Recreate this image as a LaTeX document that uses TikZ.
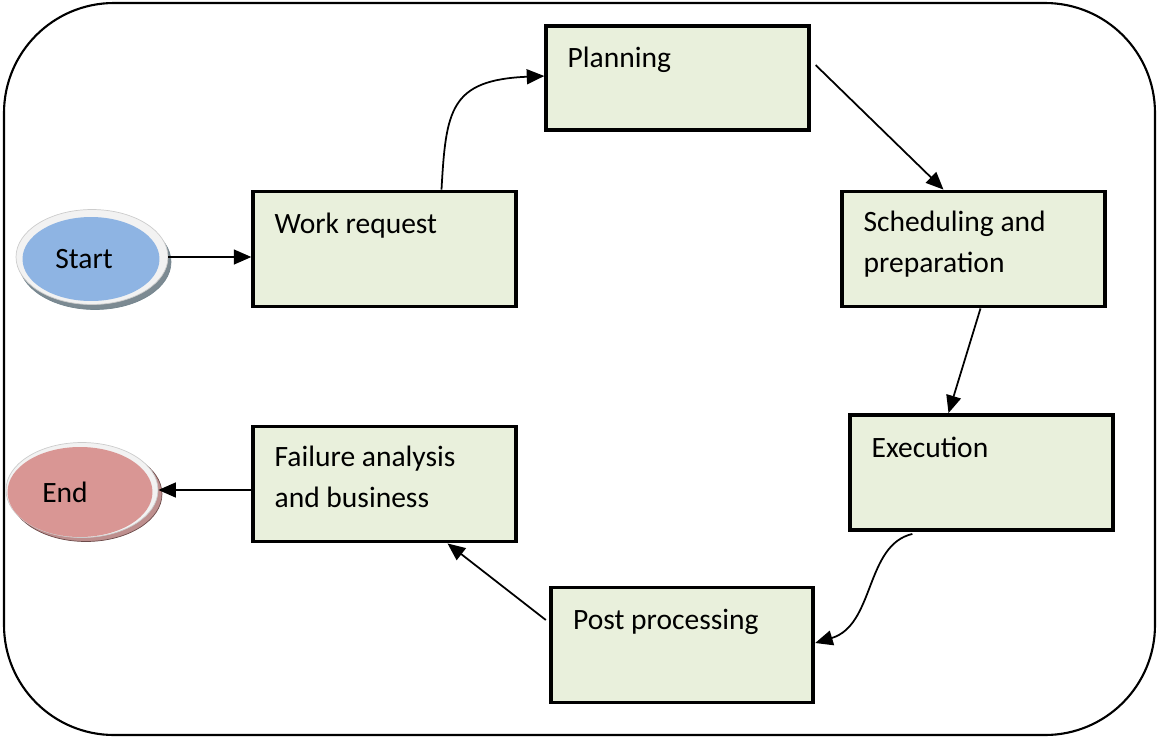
\documentclass[tikz,border=0pt]{standalone}
\usepackage{fontspec}
\setmainfont{Carlito}
\usepackage{tikz}
\usetikzlibrary{calc}
\usetikzlibrary{arrows.meta}
\usetikzlibrary{shapes.geometric}
\definecolor{boxgreen}{HTML}{E9F0DC}
\definecolor{startblue}{HTML}{8EB4E3}
\definecolor{endred}{HTML}{D99694}
\definecolor{rimgrey}{HTML}{F2F2F2}
\tikzset{stage/.style={rectangle,draw=black,fill=boxgreen,line width=2.2pt,minimum width=5.25cm,minimum height=2.3cm,inner sep=0pt}}
\tikzset{stagetxt/.style={anchor=base west,inner sep=0pt,align=left,font=\fontsize{16.8}{23.3}\selectfont}}
\tikzset{term/.style={ellipse,inner sep=0pt,minimum width=2.74cm,minimum height=1.68cm,draw=none,font=\fontsize{16.8}{19}\selectfont}}
\tikzset{termrim/.style={ellipse,inner sep=0pt,minimum width=3.04cm,minimum height=1.9cm,fill=rimgrey,draw=black!20,line width=0.4pt}}
\tikzset{flow/.style={line width=1pt,-{Triangle[length=10pt,width=8.5pt]}}}
\begin{document}
\begin{tikzpicture}[x=0.02cm,y=-0.02cm]
\useasboundingbox (0,0) rectangle (1157,738);
\draw[line width=1.2pt,rounded corners=2.2cm] (4,3) rectangle (1155,735);

% stages
\node[stage,minimum height=2.08cm] (plan) at (677.5,78) {};
\node[stage] (wreq) at (384.5,249) {};
\node[stage] (sched) at (973.5,249) {};
\node[stage] (exec) at (981.5,472.5) {};
\node[stage] (post) at (682,645) {};
\node[stage] (fail) at (384.5,484) {};

% labels (base = last line)
\node[stagetxt] (planT) at ($(plan.north west)+(23,43)$) {Planning};
\node[stagetxt] (wreqT) at ($(wreq.north west)+(23,44)$) {Work request};
\node[stagetxt] (schedT) at ($(sched.north west)+(23,83)$) {Scheduling and\\preparation};
\node[stagetxt] (execT) at ($(exec.north west)+(23,44)$) {Execution};
\node[stagetxt] (postT) at ($(post.north west)+(24,44)$) {Post processing};
\node[stagetxt] (failT) at ($(fail.north west)+(23,83)$) {Failure analysis\\and business};

% start and end discs
\node[termrim,fill=black!45!cyan!30!gray,draw=black!50!cyan!40!gray] (startS) at (95,262) {};
\node[termrim] (startR) at (92,257) {};
\node[term,fill=startblue] (start) at (91,259) {\hspace*{-0.28cm}Start};
\node[termrim,fill=endred!70!gray,draw=endred!50!black] (endS) at (86,494) {};
\node[termrim] (endR) at (82,490) {};
\node[term,fill=endred,minimum width=2.9cm,minimum height=1.8cm] (end) at (80,492) {\hspace*{-0.6cm}End};

% connectors
\coordinate (wq) at ($(wreq.north)+(57,0)$);
\coordinate (pl) at ($(plan.west)+(0,-2)$);
\coordinate (pe) at ($(plan.north east)+(5,41)$);
\coordinate (sd) at ($(sched.south)+(7,0)$);
\coordinate (ex) at ($(exec.south west)+(64,2)$);
\coordinate (ps) at ($(post.west)+(-3,-25)$);
\coordinate (fl) at ($(fail.south)+(63,0)$);
\draw[flow] (startR.east) -- (startR.east -| wreq.west);
\draw[flow] (wq) .. controls (446,110) and (450,80) .. (pl);
\draw[flow] (pe) -- ($(sched.north)+(-30,0)$);
\draw[flow] (sd) -- ($(exec.north)+(-33,0)$);
\draw[flow] (ex) .. controls (865,545) and (875,625) .. ($(post.east)+(0,-2)$);
\draw[flow] (ps) -- (fl);
\draw[flow] (fail.west |- endR.east) -- (endR.east);
\end{tikzpicture}
\end{document}
